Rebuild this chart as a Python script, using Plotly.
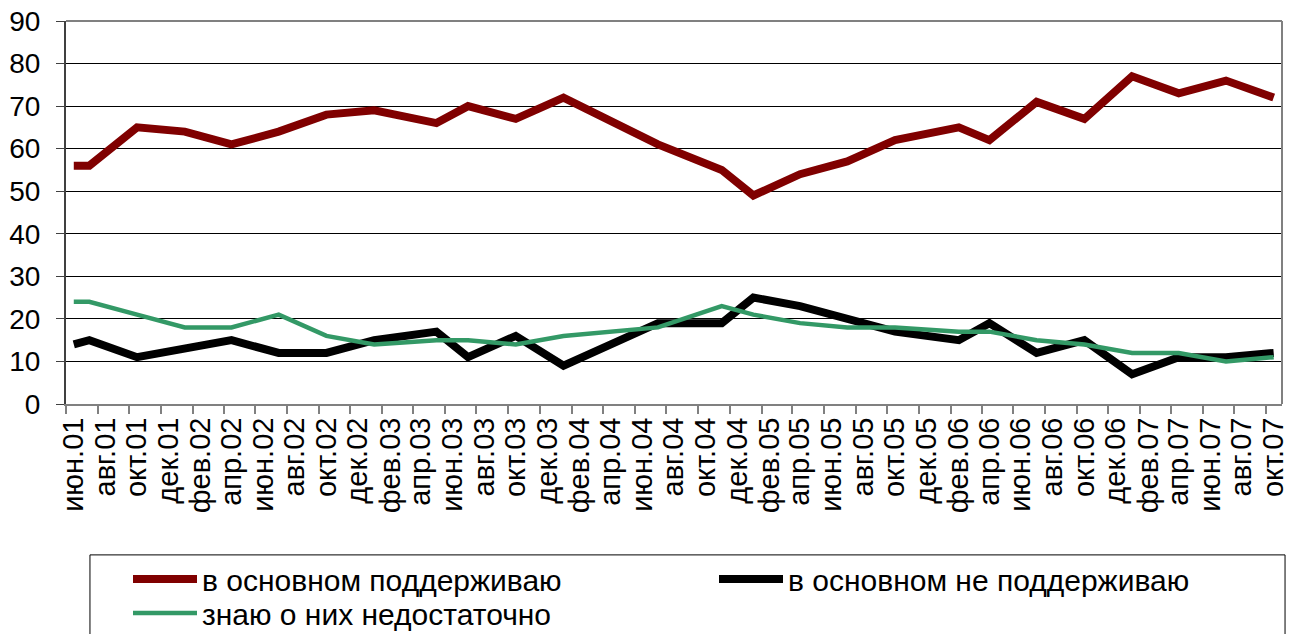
import pandas as pd
import plotly.graph_objects as go

# Survey months (data points) and values, %
survey_months = ["2001-06", "2001-07", "2001-10", "2002-01", "2002-04", "2002-07",
                 "2002-10", "2003-01", "2003-05", "2003-07", "2003-10", "2004-01",
                 "2004-07", "2004-11", "2005-01", "2005-04", "2005-07", "2005-10",
                 "2006-02", "2006-04", "2006-07", "2006-10", "2007-01", "2007-04",
                 "2007-07", "2007-10"]
support = [56, 56, 65, 64, 61, 64, 68, 69, 66, 70, 67, 72, 61, 55, 49, 54, 57, 62,
           65, 62, 71, 67, 77, 73, 76, 72]
oppose = [14, 15, 11, 13, 15, 12, 12, 15, 17, 11, 16, 9, 19, 19, 25, 23, 20, 17,
          15, 19, 12, 15, 7, 11, 11, 12]
unaware = [24, 24, 21, 18, 18, 21, 16, 14, 15, 15, 14, 16, 18, 23, 21, 19, 18, 18,
           17, 17, 15, 14, 12, 12, 10, 11]

series_names = ["в основном поддерживаю", "в основном не поддерживаю",
                "знаю о них недостаточно"]

tick_labels = ["июн.01", "авг.01", "окт.01", "дек.01",
               "фев.02", "апр.02", "июн.02", "авг.02", "окт.02", "дек.02",
               "фев.03", "апр.03", "июн.03", "авг.03", "окт.03", "дек.03",
               "фев.04", "апр.04", "июн.04", "авг.04", "окт.04", "дек.04",
               "фев.05", "апр.05", "июн.05", "авг.05", "окт.05", "дек.05",
               "фев.06", "апр.06", "июн.06", "авг.06", "окт.06", "дек.06",
               "фев.07", "апр.07", "июн.07", "авг.07", "окт.07"]

# positions: centre of each month slot
x_dates = pd.to_datetime(survey_months) + pd.Timedelta(days=15)
label_starts = pd.date_range("2001-06-01", periods=len(tick_labels), freq="2MS")
label_pos = label_starts + pd.Timedelta(days=15)

FONT = "Liberation Sans, Arial, sans-serif"
W, H = 1297, 634

fig = go.Figure()
fig.add_trace(go.Scatter(x=x_dates, y=support, mode="lines", name=series_names[0],
                         line=dict(color="#800000", width=8), legend="legend"))
fig.add_trace(go.Scatter(x=x_dates, y=oppose, mode="lines", name=series_names[1],
                         line=dict(color="#000000", width=8), legend="legend"))
fig.add_trace(go.Scatter(x=x_dates, y=unaware, mode="lines", name=series_names[2],
                         line=dict(color="#339966", width=4.5), legend="legend2"))

legend_common = dict(orientation="h", xref="container", yref="container",
                     xanchor="left", yanchor="top",
                     font=dict(size=30, family=FONT), entrywidth=507,
                     entrywidthmode="pixels", bgcolor="rgba(0,0,0,0)",
                     itemwidth=64)

fig.update_layout(
    width=W, height=H,
    margin=dict(l=66, r=15, t=21, b=230, autoexpand=False),
    paper_bgcolor="white", plot_bgcolor="white",
    font=dict(family=FONT, color="black"),
    showlegend=True,
    legend=dict(x=128 / W, y=(H - 553) / H, **legend_common),
    legend2=dict(x=128 / W, y=(H - 587) / H, **legend_common),
    xaxis=dict(type="date", range=["2001-06-01", "2007-11-01"], automargin=False,
               tickmode="array", tickvals=label_pos, ticktext=tick_labels,
               tickangle=-90, tickfont=dict(size=29, family=FONT),
               ticklabeloverflow="allow",
               ticks="", showgrid=False, zeroline=False,
               showline=True, linecolor="#808080", linewidth=2,
               minor=dict(tickmode="array", tickvals=label_starts,
                          ticks="outside", ticklen=8, tickwidth=2,
                          tickcolor="#808080", showgrid=False)),
    yaxis=dict(range=[0, 90], tickmode="linear", tick0=0, dtick=10, automargin=False,
               tickfont=dict(size=28, family=FONT), ticklabelstandoff=10,
               ticklabeloverflow="allow",
               ticks="outside", ticklen=8, tickcolor="#404040", tickwidth=1,
               showgrid=True, gridcolor="#000000", gridwidth=1,
               zeroline=False, showline=True, linecolor="#404040", linewidth=2),
    shapes=[
        dict(type="line", xref="paper", yref="paper", x0=0, x1=1, y0=1, y1=1,
             line=dict(color="#808080", width=2)),
        dict(type="line", xref="paper", yref="paper", x0=1, x1=1, y0=0, y1=1,
             line=dict(color="#808080", width=2)),
        dict(type="rect", xref="paper", yref="paper", x0=0.0197, x1=1.0025,
             y0=-0.62, y1=-0.394, line=dict(color="black", width=1),
             fillcolor="rgba(0,0,0,0)"),
    ],
)

fig.write_html("out.html", config={"displayModeBar": False},
               post_script="document.body.style.margin='0';document.body.style.padding='0';")
